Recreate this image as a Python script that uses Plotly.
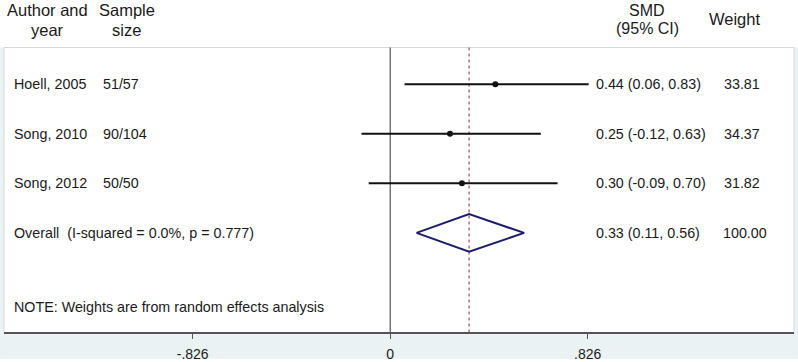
import plotly.graph_objects as go

# ---- data ----
studies = ["Hoell, 2005", "Song, 2010", "Song, 2012"]
sample_sizes = ["51/57", "90/104", "50/50"]
smd = [0.44, 0.25, 0.30]
ci_low = [0.06, -0.12, -0.09]
ci_high = [0.83, 0.63, 0.70]
weights = ["33.81", "34.37", "31.82"]
effect_text = ["0.44 (0.06, 0.83)", "0.25 (-0.12, 0.63)", "0.30 (-0.09, 0.70)"]

overall_label = "Overall\u00a0 (I-squared = 0.0%, p = 0.777)"
overall_smd = 0.33
overall_low = 0.11
overall_high = 0.56
overall_text = "0.33 (0.11, 0.56)"
overall_weight = "100.00"

note_text = "NOTE: Weights are from random effects analysis"
tick_vals = [-0.826, 0, 0.826]
tick_text = ["-.826", "0", ".826"]

# ---- layout helpers ----
W, H = 798, 362
ML, MR, MT, MB = 4, 4, 0, 27
PW = W - ML - MR
PH = H - MT - MB
X0_PX, PX_PER_UNIT = 390.2, 239.1
ROW0_PX, ROW_STEP = 85.0, 50.0


def row_of_px(p):
    return 1 + (p - ROW0_PX) / ROW_STEP


def xpaper(p):
    return (p - ML) / PW


def ypaper(p):
    return (PH - (p - MT)) / PH


x_range = [(ML - X0_PX) / PX_PER_UNIT, (W - MR - X0_PX) / PX_PER_UNIT]
y_range = [row_of_px(MT + PH), row_of_px(MT)]

FONT = "Arial, Liberation Sans, sans-serif"
TXT = "#1a1a1a"
BG = "#eaf2f3"

rows = list(range(1, len(studies) + 1))
overall_row = len(studies) + 1
top_row = row_of_px(48)
bottom_row = y_range[0]

fig = go.Figure()

# reference line at 0
fig.add_trace(go.Scatter(x=[0, 0], y=[top_row, bottom_row], mode="lines",
                         line=dict(color="#333333", width=1), hoverinfo="skip"))
# overall estimate dashed line
fig.add_trace(go.Scatter(x=[overall_smd, overall_smd], y=[top_row, bottom_row], mode="lines",
                         line=dict(color="#a3525c", width=1.2, dash="3px,3px"), hoverinfo="skip"))

# CI lines
for r, lo, hi in zip(rows, ci_low, ci_high):
    fig.add_trace(go.Scatter(x=[lo, hi], y=[r, r], mode="lines",
                             line=dict(color="#111111", width=2), hoverinfo="skip"))
# point estimates
fig.add_trace(go.Scatter(x=smd, y=rows, mode="markers",
                         marker=dict(color="#111111", size=6, symbol="circle"), hoverinfo="skip"))

# overall diamond
h = 19 / ROW_STEP
fig.add_trace(go.Scatter(
    x=[overall_low, overall_smd, overall_high, overall_smd, overall_low],
    y=[overall_row, overall_row - h, overall_row, overall_row + h, overall_row],
    mode="lines", line=dict(color="#1c1c6b", width=2), hoverinfo="skip"))

ann = []


def add_text(text, x, y, size=14, xanchor="left", yanchor="middle", yref="y"):
    ann.append(dict(text=text, x=x, y=y, xref="paper", yref=yref, xanchor=xanchor,
                    yanchor=yanchor, showarrow=False, borderpad=0,
                    font=dict(family=FONT, size=size, color=TXT)))


for r, s, n, e, w in zip(rows, studies, sample_sizes, effect_text, weights):
    add_text(s, xpaper(13), r, 14.3)
    add_text(n, xpaper(101.5), r, 14.3)
    add_text(e, xpaper(595), r, 14.3)
    add_text(w, xpaper(723), r, 14.3)

add_text(overall_label, xpaper(13), overall_row, 14.3)
add_text(overall_text, xpaper(595), overall_row, 14.3)
add_text(overall_weight, xpaper(722), overall_row, 14.3)
add_text(note_text, xpaper(13), row_of_px(310), 14.3)

# headers
HS = 16.5
add_text("Author and", xpaper(47), row_of_px(0), HS, "center", "top")
add_text("year", xpaper(47), row_of_px(30.5), HS, "center")
add_text("Sample", xpaper(126.5), row_of_px(0), HS, "center", "top")
add_text("size", xpaper(126.5), row_of_px(30.5), HS, "center")
add_text("SMD", xpaper(646.5), row_of_px(11), 16, "center")
add_text("(95% CI)", xpaper(647.5), row_of_px(28.5), 16, "center")
add_text("Weight", xpaper(734), row_of_px(19), HS, "center")

# background frame shapes
lx = -ML / PW
rx = 1 + MR / PW
top_line = ypaper(48)
bot = -MB / PH
shapes = [
    dict(type="rect", xref="paper", yref="paper", x0=lx, x1=0, y0=bot, y1=top_line,
         fillcolor=BG, line=dict(width=0), layer="below"),
    dict(type="rect", xref="paper", yref="paper", x0=1, x1=rx, y0=bot, y1=top_line,
         fillcolor=BG, line=dict(width=0), layer="below"),
    dict(type="rect", xref="paper", yref="paper", x0=lx, x1=rx, y0=bot, y1=0,
         fillcolor=BG, line=dict(width=0), layer="below"),
    dict(type="line", xref="paper", yref="paper", x0=0, x1=1, y0=top_line, y1=top_line,
         line=dict(color="#d3d9db", width=1), layer="below"),
    dict(type="line", xref="paper", yref="paper", x0=0, x1=0, y0=0, y1=top_line,
         line=dict(color="#d3d9db", width=1), layer="below"),
    dict(type="line", xref="paper", yref="paper", x0=1, x1=1, y0=0, y1=top_line,
         line=dict(color="#d3d9db", width=1), layer="below"),
]

fig.update_layout(
    width=W, height=H,
    margin=dict(l=ML, r=MR, t=MT, b=MB),
    paper_bgcolor="white", plot_bgcolor="white",
    showlegend=False,
    annotations=ann,
    shapes=shapes,
    xaxis=dict(range=x_range, tickvals=tick_vals, ticktext=tick_text,
               showgrid=False, zeroline=False, showline=True, linecolor="#555555",
               linewidth=1.5, ticks="outside", ticklen=5, tickcolor="#555555",
               tickfont=dict(family=FONT, size=14, color=TXT), ticklabelstandoff=3,
               fixedrange=True),
    yaxis=dict(range=y_range, visible=False, showgrid=False, zeroline=False, fixedrange=True),
)

fig.write_html("out.html", config={"displayModeBar": False})

# remove the default page margin so the figure fills the window exactly
with open("out.html", "r", encoding="utf-8") as f:
    html = f.read()
html = html.replace("<head>", "<head><style>html,body{margin:0;padding:0;overflow:hidden;}</style>", 1)
with open("out.html", "w", encoding="utf-8") as f:
    f.write(html)
